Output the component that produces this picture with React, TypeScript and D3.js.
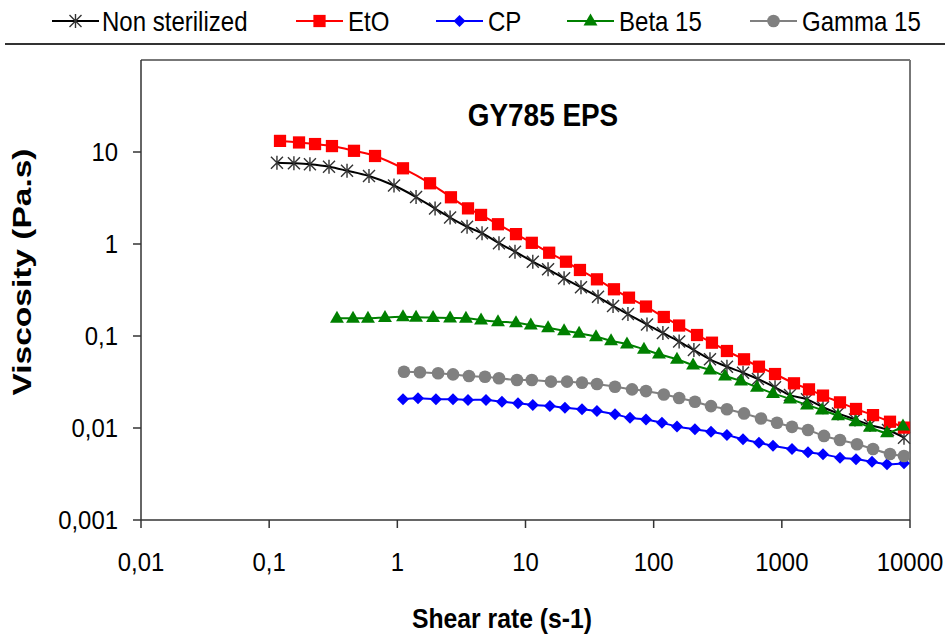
import React from "react";
import * as d3 from "d3";

// Shear rate (s-1) and viscosity (Pa.s) per sample
const shearNonSterilized = [0.115, 0.156, 0.208, 0.293, 0.405, 0.601, 0.942, 1.4, 1.97, 2.58, 3.5, 4.58, 6.21, 8.28, 11.4, 15.0, 20.0, 27.1, 36.8, 48.2, 63.0, 88.7, 118, 158, 206, 275, 373, 498, 651, 885, 1158, 1571, 2095, 2743, 3722, 4873, 6733, 8978];
const viscNonSterilized = [7.65, 7.54, 7.35, 6.92, 6.26, 5.48, 4.32, 3.24, 2.43, 1.94, 1.54, 1.31, 1.02, 0.825, 0.642, 0.531, 0.424, 0.338, 0.267, 0.212, 0.173, 0.133, 0.108, 0.0871, 0.0704, 0.0558, 0.0464, 0.0399, 0.0341, 0.0277, 0.0228, 0.0205, 0.0168, 0.0144, 0.0124, 0.0108, 0.0095, 0.00785];

const shearEtO = [0.1215, 0.171, 0.228, 0.309, 0.459, 0.67, 1.107, 1.8, 2.62, 3.56, 4.5, 6.1, 8.43, 11.2, 15.3, 20.7, 26.6, 36.1, 49.0, 64.2, 87.1, 120, 158, 218, 285, 373, 507, 663, 885, 1244, 1629, 2095, 2843, 3791, 5145, 6981, 8978];
const viscEtO = [13.2, 12.7, 12.2, 11.6, 10.3, 9.05, 6.65, 4.57, 3.22, 2.44, 2.07, 1.64, 1.28, 1.03, 0.804, 0.642, 0.522, 0.413, 0.322, 0.261, 0.209, 0.161, 0.13, 0.1025, 0.0846, 0.0687, 0.0558, 0.0464, 0.0386, 0.0306, 0.0263, 0.0225, 0.019, 0.0161, 0.0138, 0.0117, 0.0101];

const shearCP = [1.107, 1.45, 2.0, 2.72, 3.56, 4.92, 6.55, 8.74, 11.4, 15.5, 20.3, 27.6, 36.1, 49.9, 65.4, 87.1, 116, 152, 210, 280, 373, 498, 663, 853, 1200, 1600, 2095, 2843, 3790, 5052, 6615, 8978];
const viscCP = [0.0205, 0.021, 0.0205, 0.0205, 0.0202, 0.0202, 0.0193, 0.0186, 0.0178, 0.0173, 0.0166, 0.016, 0.0153, 0.0141, 0.0129, 0.0124, 0.0114, 0.0104, 0.00968, 0.00911, 0.00839, 0.00754, 0.00692, 0.00642, 0.00591, 0.00544, 0.00518, 0.00476, 0.00457, 0.0043, 0.00403, 0.00413];

const shearBeta15 = [0.338, 0.451, 0.59, 0.801, 1.107, 1.4, 1.9, 2.58, 3.43, 4.5, 6.1, 8.43, 11.0, 15.0, 20.0, 26.2, 35.5, 46.5, 61.9, 84.0, 110, 152, 203, 275, 360, 480, 640, 853, 1158, 1571, 2058, 2743, 3790, 4873, 6615, 8815];
const viscBeta15 = [0.1557, 0.1557, 0.1557, 0.1589, 0.1621, 0.1597, 0.1589, 0.1569, 0.1557, 0.1493, 0.143, 0.1395, 0.1317, 0.1231, 0.1142, 0.107, 0.0983, 0.0889, 0.0818, 0.0717, 0.0637, 0.0558, 0.0484, 0.0427, 0.0367, 0.0324, 0.0277, 0.0238, 0.0207, 0.0178, 0.0157, 0.0136, 0.0117, 0.0102, 0.00889, 0.0105];

const shearGamma15 = [1.127, 1.5, 2.08, 2.72, 3.62, 4.83, 6.21, 8.58, 11.2, 15.8, 21.1, 27.6, 36.1, 49.9, 67.8, 87.1, 120, 158, 210, 280, 373, 507, 688, 917, 1200, 1600, 2133, 2843, 3859, 5145, 6981, 8978];
const viscGamma15 = [0.0409, 0.0403, 0.0393, 0.0383, 0.0367, 0.0361, 0.0347, 0.0332, 0.0332, 0.0319, 0.0319, 0.0311, 0.0301, 0.0281, 0.0263, 0.0252, 0.0231, 0.0212, 0.0193, 0.0173, 0.016, 0.0144, 0.0127, 0.0114, 0.0103, 0.0095, 0.0082, 0.0074, 0.00665, 0.00591, 0.00522, 0.00496];

const xTickValues = [0.01, 0.1, 1, 10, 100, 1000, 10000];
const xTickLabels = ["0,01", "0,1", "1", "10", "100", "1000", "10000"];
const yTickValues = [0.001, 0.01, 0.1, 1, 10];
const yTickLabels = ["0,001", "0,01", "0,1", "1", "10"];

const seriesNames = ["Non sterilized", "EtO", "CP", "Beta 15", "Gamma 15"];

const FONT = "'Liberation Sans', Arial, sans-serif";

type Marker = "asterisk" | "square" | "diamond" | "triangle" | "circle";

interface Series {
  name: string;
  x: number[];
  y: number[];
  color: string;
  marker: Marker;
}

const series: Series[] = [
  { name: seriesNames[0], x: shearNonSterilized, y: viscNonSterilized, color: "#000000", marker: "asterisk" },
  { name: seriesNames[1], x: shearEtO, y: viscEtO, color: "#FF0000", marker: "square" },
  { name: seriesNames[2], x: shearCP, y: viscCP, color: "#0000FF", marker: "diamond" },
  { name: seriesNames[3], x: shearBeta15, y: viscBeta15, color: "#008000", marker: "triangle" },
  { name: seriesNames[4], x: shearGamma15, y: viscGamma15, color: "#808080", marker: "circle" },
];

const plot = { left: 141, right: 910, top: 60, bottom: 520 };

const xScale = d3.scaleLog().domain([0.01, 10000]).range([plot.left, plot.right]);
const yScale = d3.scaleLog().domain([0.001, 100]).range([plot.bottom, plot.top]);

const asteriskPath = "M0,-7L0,7M-6,-6L6,6M-6,6L6,-6";

function MarkerShape({ type, color, x, y }: { type: Marker; color: string; x: number; y: number }) {
  const t = `translate(${x},${y})`;
  switch (type) {
    case "asterisk":
      return <path d={asteriskPath} transform={t} stroke="#333" strokeWidth={1.4} fill="none" />;
    case "square":
      return <path d={d3.symbol(d3.symbolSquare, 150)()!} transform={t} fill={color} />;
    case "diamond":
      return <path d={d3.symbol(d3.symbolSquare, 72)()!} transform={`${t} rotate(45)`} fill={color} />;
    case "triangle":
      return <path d={d3.symbol(d3.symbolTriangle, 84)()!} transform={`translate(${x},${y + 0.5})`} fill={color} />;
    case "circle":
      return <path d={d3.symbol(d3.symbolCircle, 125)()!} transform={t} fill={color} />;
  }
}

// Text drawn slightly narrower than tall (condensed glyphs)
function CText({
  x,
  y,
  size,
  sx = 0.9,
  anchor = "start",
  weight = "normal",
  dy,
  children,
}: {
  x: number;
  y: number;
  size: number;
  sx?: number;
  anchor?: "start" | "middle" | "end";
  weight?: string;
  dy?: string;
  children: React.ReactNode;
}) {
  return (
    <text
      transform={`translate(${x},${y}) scale(${sx},1)`}
      dy={dy}
      textAnchor={anchor}
      fontSize={size}
      fontWeight={weight}
      fill="#000"
    >
      {children}
    </text>
  );
}

const legendItems = [
  { lineX: 52, textX: 102 },
  { lineX: 296, textX: 348 },
  { lineX: 436, textX: 488 },
  { lineX: 567, textX: 619 },
  { lineX: 750, textX: 802 },
];

export default function App() {
  const line = d3
    .line<[number, number]>()
    .x((d) => xScale(d[0]))
    .y((d) => yScale(d[1]))
    .curve(d3.curveCatmullRom.alpha(0.5));

  return (
    <div style={{ position: "absolute", left: 0, top: 0 }}>
      <svg width={950} height={637} style={{ display: "block", background: "#fff" }} fontFamily={FONT}>
        {/* legend */}
        {series.map((s, i) => {
          const li = legendItems[i];
          const cy = 21;
          return (
            <g key={s.name}>
              <line x1={li.lineX} x2={li.lineX + 47} y1={cy} y2={cy} stroke={s.color} strokeWidth={2} />
              <MarkerShape type={s.marker} color={s.color} x={li.lineX + 23.5} y={cy} />
              <CText x={li.textX} y={cy} dy="0.36em" size={27} sx={0.89}>
                {s.name}
              </CText>
            </g>
          );
        })}
        <line x1={5} x2={945} y1={44} y2={44} stroke="#333" strokeWidth={2} />

        {/* plot frame */}
        <line x1={plot.left} x2={plot.right} y1={plot.top} y2={plot.top} stroke="#777" strokeWidth={2} />
        <line x1={plot.right} x2={plot.right} y1={plot.top} y2={plot.bottom} stroke="#777" strokeWidth={2} />

        {/* y axis */}
        <line x1={plot.left} x2={plot.left} y1={plot.top} y2={plot.bottom} stroke="#333" strokeWidth={1.5} />
        {yTickValues.map((v, i) => (
          <g key={v}>
            <line x1={plot.left - 8} x2={plot.left} y1={yScale(v)} y2={yScale(v)} stroke="#333" strokeWidth={1.5} />
            <CText x={118} y={yScale(v)} dy="0.36em" anchor="end" size={26} sx={0.92}>
              {yTickLabels[i]}
            </CText>
          </g>
        ))}

        {/* x axis */}
        <line x1={plot.left} x2={plot.right} y1={plot.bottom} y2={plot.bottom} stroke="#333" strokeWidth={1.5} />
        {xTickValues.map((v, i) => (
          <g key={v}>
            <line x1={xScale(v)} x2={xScale(v)} y1={plot.bottom} y2={plot.bottom + 8} stroke="#333" strokeWidth={1.5} />
            <CText x={xScale(v)} y={571} anchor="middle" size={26} sx={0.92}>
              {xTickLabels[i]}
            </CText>
          </g>
        ))}

        {/* axis titles */}
        <CText x={502} y={628} anchor="middle" size={27.5} sx={0.9} weight="bold">
          Shear rate (s-1)
        </CText>
        <text
          transform={`translate(31,272) scale(0.78,1) rotate(-90)`}
          textAnchor="middle"
          fontSize={33.5}
          fontWeight="bold"
          fill="#000"
        >
          Viscosity (Pa.s)
        </text>

        {/* chart title */}
        <CText x={543} y={126} anchor="middle" size={31} sx={0.9} weight="bold">
          GY785 EPS
        </CText>

        {/* series */}
        {series.map((s) => {
          const pts = s.x.map((xv, i) => [xv, s.y[i]] as [number, number]);
          return (
            <g key={s.name}>
              <path d={line(pts)!} fill="none" stroke={s.color} strokeWidth={2} />
              {pts.map((p, i) => (
                <MarkerShape key={i} type={s.marker} color={s.color} x={xScale(p[0])} y={yScale(p[1])} />
              ))}
            </g>
          );
        })}
      </svg>
    </div>
  );
}
